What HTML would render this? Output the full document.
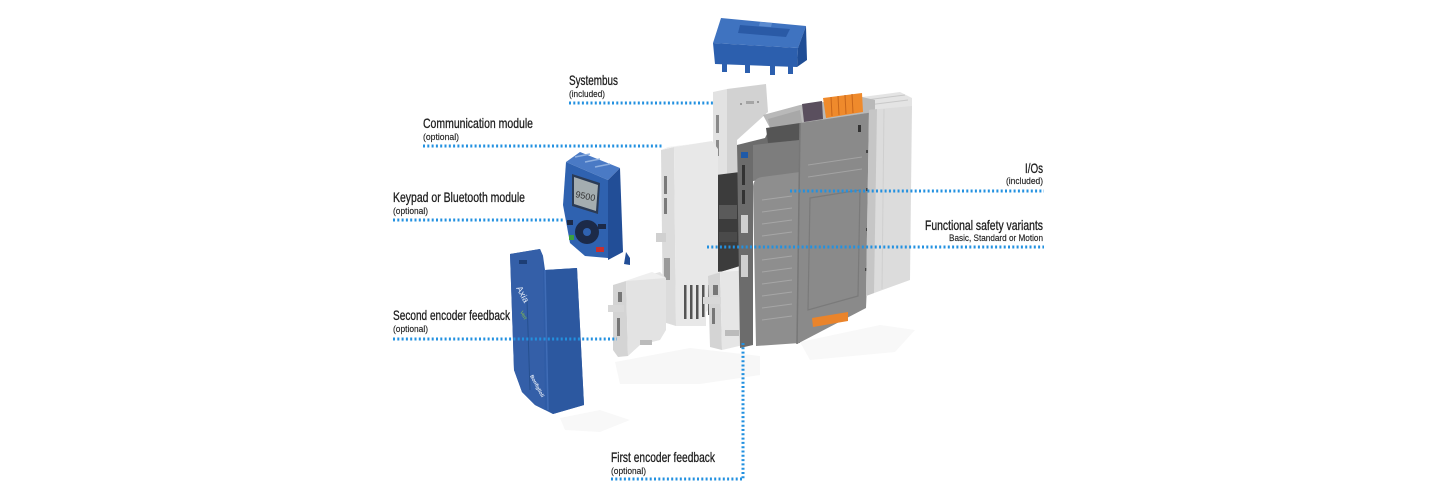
<!DOCTYPE html>
<html>
<head>
<meta charset="utf-8">
<style>
  html,body{margin:0;padding:0;background:#fff;}
  body{width:1440px;height:500px;overflow:hidden;}
  svg{display:block;}
  .lab{font-family:"Liberation Sans",sans-serif;fill:#1e1e1e;}
  .big{font-size:14px;stroke:#1e1e1e;stroke-width:0.3;}
  .sm{font-size:9.5px;stroke:#1e1e1e;stroke-width:0.15;}
  .dot{stroke:#2391e0;stroke-width:3;stroke-dasharray:2 2.3;fill:none;}
</style>
</head>
<body>
<svg width="1440" height="500" viewBox="0 0 1440 500" xmlns="http://www.w3.org/2000/svg">
  <rect width="1440" height="500" fill="#ffffff"/>

  <!-- floor shadows (faint) -->
  <polygon points="615,362 690,348 760,356 760,375 700,384 620,384" fill="#f7f7f7"/>
  <polygon points="800,342 880,325 915,330 895,352 810,360" fill="#f8f8f8"/>
  <polygon points="560,418 600,410 630,420 600,432 565,430" fill="#f8f8f8"/>

  <!-- ===== Blue top cover ===== -->
  <polygon points="713,43 721,18 806,26 798,48" fill="#3f73c0"/>
  <polygon points="740,25 790,29 786,37 738,33" fill="#2a5aa6"/>
  <polygon points="760,22 772,23 771,27 759,26" fill="#5b8bd0"/>
  <polygon points="713,43 798,48 797,67 715,64" fill="#2c5fae"/>
  <polygon points="798,48 806,26 807,60 797,67" fill="#1f4d95"/>
  <rect x="722" y="63" width="5" height="9" fill="#2c5fae"/>
  <rect x="745" y="64" width="5" height="9" fill="#2c5fae"/>
  <rect x="770" y="66" width="5" height="9" fill="#2c5fae"/>
  <rect x="788" y="66" width="5" height="8" fill="#2c5fae"/>

  <!-- ===== Systembus module ===== -->
  <polygon points="713,92 727,89 727,180 713,182" fill="#e2e2e2"/>
  <polygon points="727,89 766,84 768,112 737,140 737,180 727,180" fill="#d2d2d2"/>
  <rect x="716" y="115" width="3" height="18" fill="#8a8a8a"/>
  <rect x="716" y="140" width="3" height="16" fill="#8a8a8a"/>
  <circle cx="741" cy="104" r="1" fill="#888"/>
  <circle cx="758" cy="102" r="1" fill="#888"/>
  <rect x="746" y="101" width="8" height="3" fill="#a5a5a5"/>

  <!-- dark interior between modules -->
  <polygon points="716,175 740,172 740,270 716,272" fill="#3c3c3c"/>
  <rect x="719" y="205" width="18" height="14" fill="#5a5a5a"/>
  <rect x="719" y="232" width="18" height="10" fill="#4a4a4a"/>

  <!-- ===== Communication module ===== -->
  <polygon points="661,150 674,147 676,326 663,322" fill="#dcdcdc"/>
  <polygon points="674,147 712,141 718,149 718,300 706,312 706,326 676,326" fill="#e8e8e8"/>
  <polygon points="661,150 674,147 712,141 700,143 668,147" fill="#f1f1f1"/>
  <rect x="664" y="176" width="3" height="18" fill="#7a7a7a"/>
  <rect x="664" y="198" width="3" height="16" fill="#7a7a7a"/>
  <rect x="656" y="233" width="10" height="9" fill="#d0d0d0"/>
  <rect x="664" y="258" width="6" height="22" fill="#9a9a9a"/>
  <g fill="#555">
    <rect x="684" y="285" width="2.5" height="34"/>
    <rect x="690" y="285" width="2.5" height="34"/>
    <rect x="696" y="285" width="2.5" height="34"/>
    <rect x="702" y="285" width="2.5" height="32"/>
    <rect x="708" y="285" width="2.5" height="30"/>
  </g>

  <!-- ===== Second encoder module ===== -->
  <polygon points="613,285 626,281 628,356 618,357 613,350" fill="#d4d4d4"/>
  <polygon points="626,281 660,272 666,278 666,330 660,340 640,345 628,356" fill="#e3e3e3"/>
  <polygon points="613,285 652,272 666,278 626,281" fill="#efefef"/>
  <rect x="618" y="292" width="4" height="10" fill="#777"/>
  <rect x="608" y="305" width="16" height="7" fill="#d8d8d8"/>
  <rect x="617" y="318" width="3" height="18" fill="#777"/>
  <rect x="640" y="340" width="12" height="5" fill="#bbb"/>

  <!-- ===== First encoder module ===== -->
  <polygon points="708,276 720,272 722,350 710,347" fill="#d4d4d4"/>
  <polygon points="720,272 745,265 752,270 752,343 722,350" fill="#e6e6e6"/>
  <polygon points="708,276 740,266 752,270 720,272" fill="#f2f2f2"/>
  <rect x="713" y="285" width="5" height="10" fill="#777"/>
  <rect x="703" y="297" width="18" height="7" fill="#d8d8d8"/>
  <rect x="712" y="308" width="3" height="16" fill="#777"/>
  <rect x="725" y="330" width="14" height="6" fill="#bbb"/>

  <!-- ===== Main drive ===== -->
  <polygon points="862,97 900,92 912,98 912,110 868,112" fill="#e4e4e4"/>
  <line x1="866" y1="100" x2="905" y2="95" stroke="#c8c8c8" stroke-width="1"/>
  <line x1="868" y1="105" x2="908" y2="100" stroke="#c8c8c8" stroke-width="1"/>
  <polygon points="763,115 800,105 862,97 875,100 875,112 802,123 770,128" fill="#b9b9b9"/>
  <polygon points="768,119 800,110 802,123 770,128" fill="#a8a8a8"/>
  <polygon points="802,104 822,101 823,119 804,122" fill="#5a4f5e"/>
  <polygon points="823,98 862,93 863,112 826,118" fill="#ef8a2c"/>
  <g stroke="#c8661a" stroke-width="1">
    <line x1="831" y1="97" x2="832" y2="116"/>
    <line x1="838" y1="96" x2="839" y2="115"/>
    <line x1="845" y1="95" x2="846" y2="114"/>
    <line x1="852" y1="94" x2="853" y2="113"/>
  </g>
  <polygon points="737,145 765,138 770,128 802,123 800,175 753,180 753,345 740,348" fill="#6c6c6c"/>
  <polygon points="766,128 800,123 800,140 768,143" fill="#555"/>
  <polygon points="753,145 800,140 800,176 753,181" fill="#7d7d7d"/>
  <rect x="742" y="165" width="3" height="20" fill="#333"/>
  <rect x="742" y="190" width="3" height="14" fill="#333"/>
  <rect x="741" y="215" width="7" height="18" fill="#cfcfcf"/>
  <rect x="741" y="255" width="7" height="22" fill="#cfcfcf"/>
  <rect x="741" y="152" width="7" height="6" fill="#1f5aa8"/>
  <path d="M753,186 Q754,178 762,177 L800,172 L800,343 L756,346 Z" fill="#8e8e8e"/>
  <g stroke="#a6a6a6" stroke-width="1">
    <line x1="762" y1="200" x2="792" y2="196"/>
    <line x1="762" y1="212" x2="792" y2="208"/>
    <line x1="762" y1="224" x2="792" y2="220"/>
    <line x1="762" y1="236" x2="792" y2="232"/>
    <line x1="762" y1="260" x2="792" y2="256"/>
    <line x1="762" y1="272" x2="792" y2="268"/>
    <line x1="762" y1="284" x2="792" y2="280"/>
    <line x1="762" y1="296" x2="792" y2="292"/>
    <line x1="762" y1="308" x2="792" y2="304"/>
    <line x1="762" y1="320" x2="792" y2="316"/>
  </g>
  <polygon points="800,123 874,112 866,308 797,344" fill="#8a8a8a"/>
  <line x1="800" y1="123" x2="797" y2="344" stroke="#777" stroke-width="1.5"/>
  <polygon points="810,198 860,190 858,296 808,310" fill="none" stroke="#7a7a7a" stroke-width="1.2"/>
  <g stroke="#a3a3a3" stroke-width="1">
    <line x1="808" y1="165" x2="862" y2="157"/>
    <line x1="808" y1="177" x2="862" y2="169"/>
  </g>
  <rect x="858" y="125" width="3" height="7" fill="#333"/>
  <g fill="#444">
    <rect x="866" y="150" width="2" height="3"/>
    <rect x="866" y="188" width="2" height="3"/>
    <rect x="866" y="228" width="2" height="3"/>
    <rect x="865" y="268" width="2" height="3"/>
  </g>
  <polygon points="869,110 912,106 910,280 866,296" fill="#dcdcdc"/>
  <polygon points="869,110 877,109 874,293 866,296" fill="#c6c6c6"/>
  <line x1="884" y1="109" x2="882" y2="289" stroke="#cfcfcf" stroke-width="1"/>
  <polygon points="812,318 848,312 848,321 813,327" fill="#ea842b"/>

  <!-- ===== Keypad ===== -->
  <polygon points="566,162 580,152 620,168 608,180" fill="#4a7ac5"/>
  <g stroke="#8fb0e0" stroke-width="1.5">
    <line x1="575" y1="157" x2="590" y2="154"/>
    <line x1="585" y1="162" x2="600" y2="159"/>
    <line x1="595" y1="167" x2="610" y2="164"/>
  </g>
  <polygon points="566,162 608,180 608,258 585,256 570,243 563,205" fill="#2f62b0"/>
  <polygon points="608,180 620,168 623,252 608,260" fill="#224e97"/>
  <polygon points="626,252 630,258 630,265 624,264" fill="#224e97"/>
  <polygon points="572,174 600,183 598,214 572,206" fill="#2b3b55"/>
  <polygon points="574,177 598,185 596,211 574,204" fill="#a4adb0"/>
  <text x="575" y="197" font-family="Liberation Sans,sans-serif" font-size="9" fill="#333" transform="rotate(12 575 197)">9500</text>
  <circle cx="587" cy="232" r="12" fill="#1c2a48"/>
  <circle cx="587" cy="232" r="4" fill="#2f62b0"/>
  <rect x="567" y="220" width="6" height="5" fill="#1c2a48"/>
  <rect x="569" y="235" width="5" height="5" fill="#3aa040"/>
  <rect x="598" y="224" width="8" height="5" fill="#1c2a48"/>
  <rect x="596" y="247" width="8" height="5" fill="#c43030"/>

  <!-- ===== Blue front cover ===== -->
  <polygon points="510,254 540,249 543,256 545,270 577,268 584,405 553,414 535,405 522,392 514,370" fill="#2f5ca6"/>
  <polygon points="510,254 540,249 543,256 545,410 535,405 522,392 514,370" fill="#345fa8"/>
  <polygon points="545,270 577,268 584,405 553,414 548,410" fill="#2c58a0"/>
  <line x1="545" y1="270" x2="548" y2="410" stroke="#3f6cb6" stroke-width="1.5"/>
  <line x1="527" y1="300" x2="530" y2="390" stroke="#26508f" stroke-width="1"/>
  <rect x="519" y="260" width="8" height="4" fill="#1d3e75"/>
  <text x="516" y="288" font-family="Liberation Sans,sans-serif" font-size="9" fill="#e8eef8" transform="rotate(62 516 288)">Axia</text>
  <text x="520" y="312" font-family="Liberation Sans,sans-serif" font-size="5" fill="#8cc63f" transform="rotate(62 520 312)">Vert</text>
  <text x="530" y="376" font-family="Liberation Sans,sans-serif" font-size="5" font-weight="bold" fill="#e8eef8" transform="rotate(62 530 376)">Bonfiglioli</text>

  <!-- ===== Dotted leader lines ===== -->
  <line class="dot" x1="569" y1="103" x2="713" y2="103"/>
  <line class="dot" x1="423" y1="146" x2="663" y2="146"/>
  <line class="dot" x1="393" y1="220" x2="565" y2="220"/>
  <line class="dot" x1="393" y1="339" x2="617" y2="339"/>
  <line class="dot" x1="611" y1="479" x2="744" y2="479"/>
  <line class="dot" x1="743" y1="343" x2="743" y2="479"/>
  <line class="dot" x1="790" y1="191" x2="1044" y2="191"/>
  <line class="dot" x1="707" y1="247" x2="1044" y2="247"/>

  <!-- ===== Labels ===== -->
  <text class="lab big" x="569" y="85" textLength="49" lengthAdjust="spacingAndGlyphs">Systembus</text>
  <text class="lab sm" x="569" y="97" textLength="36" lengthAdjust="spacingAndGlyphs">(included)</text>

  <text class="lab big" x="423" y="128" textLength="110" lengthAdjust="spacingAndGlyphs">Communication module</text>
  <text class="lab sm" x="423" y="140" textLength="36" lengthAdjust="spacingAndGlyphs">(optional)</text>

  <text class="lab big" x="393" y="202" textLength="132" lengthAdjust="spacingAndGlyphs">Keypad or Bluetooth module</text>
  <text class="lab sm" x="393" y="214" textLength="35" lengthAdjust="spacingAndGlyphs">(optional)</text>

  <text class="lab big" x="393" y="320" textLength="117" lengthAdjust="spacingAndGlyphs">Second encoder feedback</text>
  <text class="lab sm" x="393" y="332" textLength="35" lengthAdjust="spacingAndGlyphs">(optional)</text>

  <text class="lab big" x="611" y="462" textLength="104" lengthAdjust="spacingAndGlyphs">First encoder feedback</text>
  <text class="lab sm" x="611" y="474" textLength="35" lengthAdjust="spacingAndGlyphs">(optional)</text>

  <text class="lab big" x="1025" y="173" textLength="18" lengthAdjust="spacingAndGlyphs">I/Os</text>
  <text class="lab sm" x="1006" y="184" textLength="37" lengthAdjust="spacingAndGlyphs">(included)</text>

  <text class="lab big" x="925" y="230" textLength="118" lengthAdjust="spacingAndGlyphs">Functional safety variants</text>
  <text class="lab sm" x="949" y="241" textLength="94" lengthAdjust="spacingAndGlyphs">Basic, Standard or Motion</text>
</svg>
</body>
</html>
